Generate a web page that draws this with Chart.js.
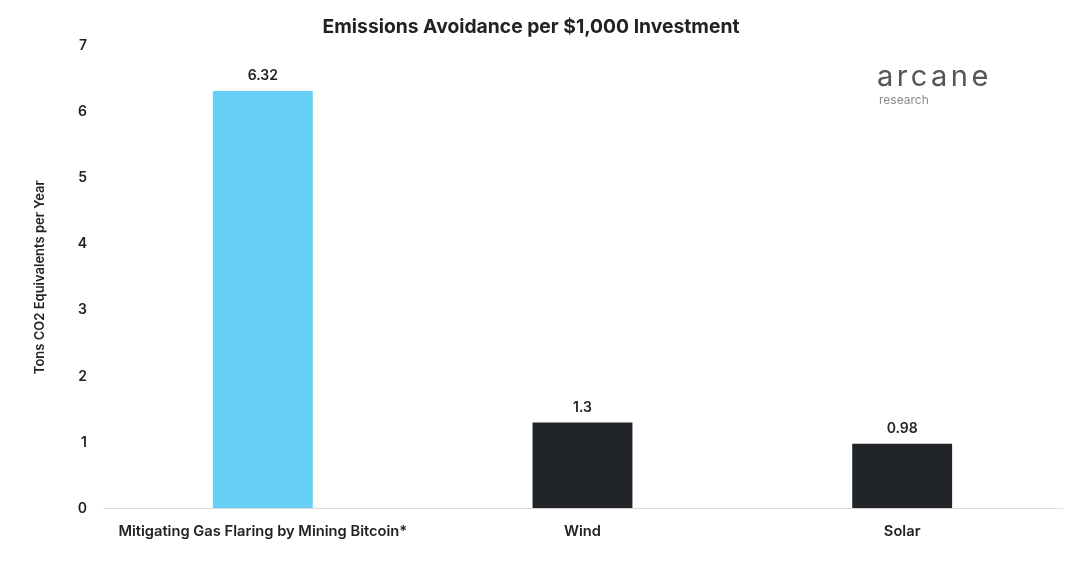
<!DOCTYPE html>
<html>
<head>
<meta charset="utf-8">
<script src="https://cdn.jsdelivr.net/npm/chart.js@4/dist/chart.umd.min.js"></script>
<style>
  html, body { margin: 0; padding: 0; background: #fff; }
  #wrap { width: 1080px; height: 565px; }
</style>
</head>
<body>
<div id="wrap"><canvas id="c"></canvas></div>
<script>
const categories = ['Mitigating Gas Flaring by Mining Bitcoin*', 'Wind', 'Solar'];
const avoidance = [6.32, 1.3, 0.98];
const valueLabels = ['6.32', '1.3', '0.98'];
const barColors = ['#66cff6', '#212429', '#212429'];

const FONT = 'Inter, "Open Sans", sans-serif';

// value labels above each bar + the logo in the corner
const extras = {
  id: 'extras',
  afterDatasetsDraw(chart) {
    const ctx = chart.ctx;
    const meta = chart.getDatasetMeta(0);
    ctx.save();
    ctx.fillStyle = '#222';
    ctx.font = '600 14px ' + FONT;
    ctx.textAlign = 'center';
    ctx.textBaseline = 'bottom';
    meta.data.forEach((bar, i) => {
      ctx.fillText(valueLabels[i], bar.x, bar.y - 8);
    });

    ctx.textAlign = 'left';
    ctx.textBaseline = 'alphabetic';
    ctx.fillStyle = '#555';
    ctx.font = '400 29px ' + FONT;
    ctx.letterSpacing = '3.5px';
    ctx.fillText('arcane', 877, 86);
    ctx.letterSpacing = '0px';
    ctx.fillStyle = '#8a8a8a';
    ctx.font = '400 12px ' + FONT;
    ctx.fillText('research', 879, 104);
    ctx.restore();
  }
};

new Chart(document.getElementById('c'), {
  type: 'bar',
  data: {
    labels: categories,
    datasets: [{
      data: avoidance,
      backgroundColor: barColors,
      barPercentage: 0.625,
      categoryPercentage: 0.5
    }]
  },
  options: {
    responsive: true,
    maintainAspectRatio: false,
    animation: false,
    layout: { padding: { top: 0, right: 18, bottom: 11, left: 0 } },
    plugins: {
      legend: { display: false },
      tooltip: { enabled: false },
      title: {
        display: true,
        text: 'Emissions Avoidance per $1,000 Investment',
        color: '#222',
        font: { family: FONT, size: 19.3, weight: '700' },
        padding: { top: 16, bottom: 7 }
      }
    },
    scales: {
      x: {
        grid: { display: false, drawTicks: false },
        border: { display: true, color: '#dddddd', width: 1 },
        ticks: {
          color: '#222',
          padding: 14,
          font: { family: FONT, size: 14.7, weight: '600' }
        }
      },
      y: {
        min: 0,
        max: 7,
        grid: { display: false, drawTicks: false },
        border: { display: false },
        ticks: {
          stepSize: 1,
          color: '#222',
          padding: 16,
          font: { family: FONT, size: 14, weight: '600' }
        },
        title: {
          display: true,
          text: 'Tons CO2 Equivalents per Year',
          color: '#222',
          padding: { top: 32, bottom: 0 },
          font: { family: FONT, size: 13, weight: '600' }
        },
        afterFit(scale) { scale.width = 103; }
      }
    }
  },
  plugins: [extras]
});
</script>
</body>
</html>
